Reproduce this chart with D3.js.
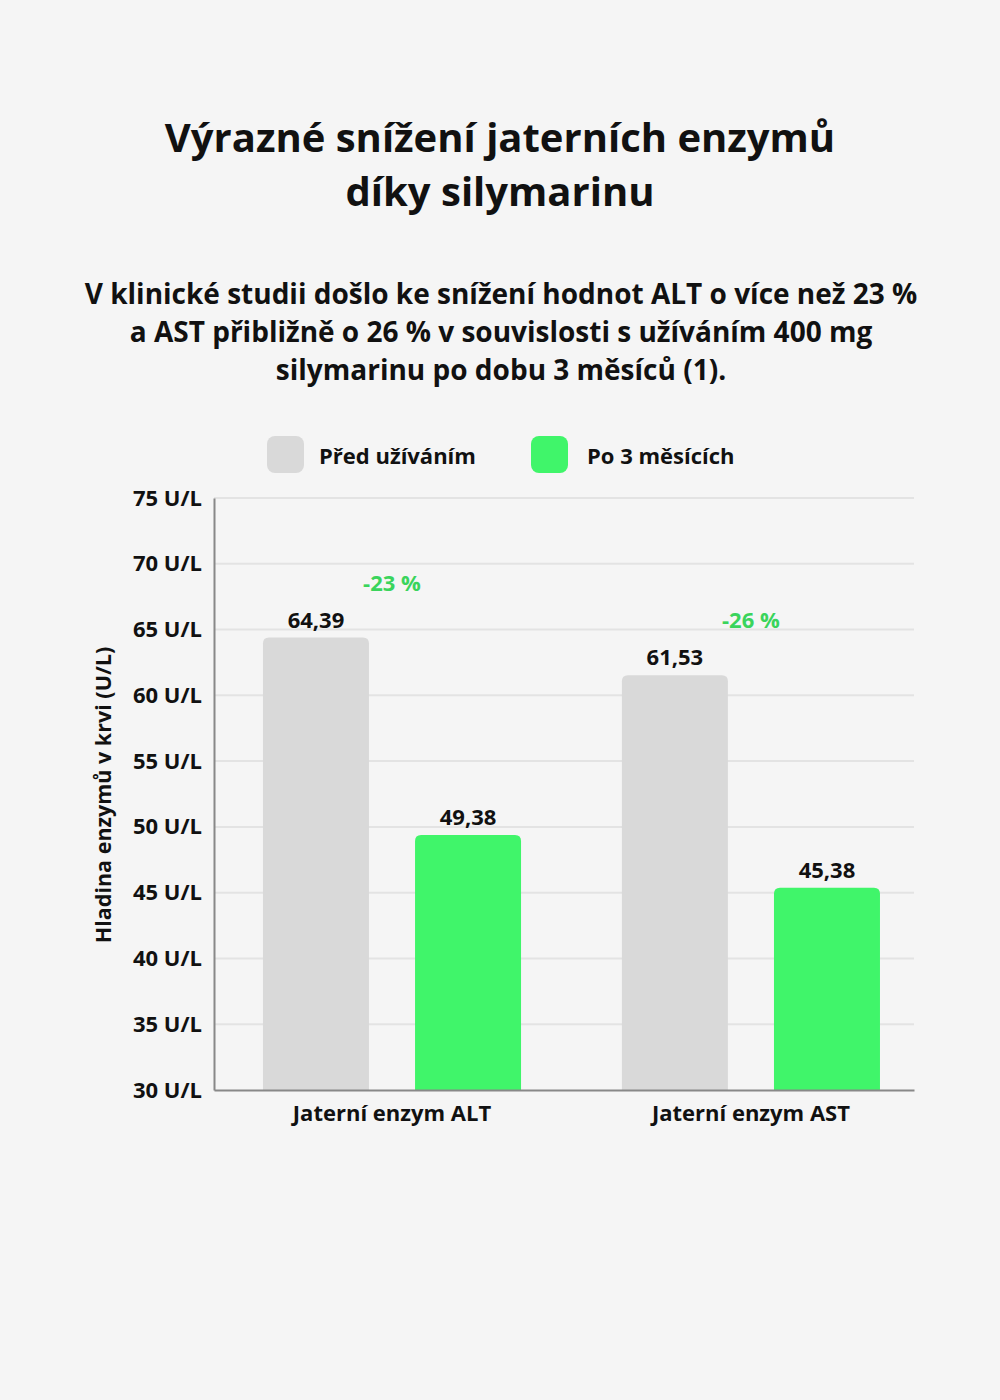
<!DOCTYPE html>
<html>
<head>
<meta charset="utf-8">
<script src="https://cdn.jsdelivr.net/npm/d3@7"></script>
<style>
  html, body { margin: 0; padding: 0; background: #f5f5f5; }
  svg { display: block; }
</style>
</head>
<body>
<svg id="chart" width="1000" height="1400"></svg>
<script>
// data
const categories = ["Jaterní enzym ALT", "Jaterní enzym AST"];
const seriesNames = ["Před užíváním", "Po 3 měsících"];
const beforeValues = [64.39, 61.53];
const afterValues = [49.38, 45.38];
const changeLabels = ["-23 %", "-26 %"];
const yTicks = [30, 35, 40, 45, 50, 55, 60, 65, 70, 75];

const FONT = "'Open Sans', 'Noto Sans', sans-serif";
const colors = ["#d9d9d9", "#40f56a"];
const fmt = v => v.toFixed(2).replace(".", ",");

const svg = d3.select("#chart");
svg.append("rect").attr("width", 1000).attr("height", 1400).attr("fill", "#f5f5f5");

// titles
const title = svg.append("text")
  .attr("text-anchor", "middle").attr("font-family", FONT)
  .attr("font-weight", 700).attr("font-size", 40).attr("fill", "#111");
["Výrazné snížení jaterních enzymů", "díky silymarinu"].forEach((t, i) =>
  title.append("tspan").attr("x", 500).attr("y", 152 + i * 54).text(t));

const sub = svg.append("text")
  .attr("text-anchor", "middle").attr("font-family", FONT)
  .attr("font-weight", 700).attr("font-size", 28).attr("fill", "#111");
["V klinické studii došlo ke snížení hodnot ALT o více než 23 %",
 "a AST přibližně o 26 % v souvislosti s užíváním 400 mg",
 "silymarinu po dobu 3 měsíců (1)."].forEach((t, i) =>
  sub.append("tspan").attr("x", 501).attr("y", 304 + i * 38).text(t));

// legend
const legendX = [267, 531];
const lg = svg.append("g");
seriesNames.forEach((n, i) => {
  lg.append("rect").attr("x", legendX[i]).attr("y", 436).attr("width", 37).attr("height", 37)
    .attr("rx", 8).attr("fill", colors[i]);
  lg.append("text").attr("x", legendX[i] + (i ? 56 : 52)).attr("y", 455)
    .attr("dominant-baseline", "central")
    .attr("font-family", FONT).attr("font-weight", 700).attr("font-size", 22)
    .attr("fill", "#111").text(n);
});

// scales
const plotL = 214, plotR = 914, plotT = 498, plotB = 1090;
const y = d3.scaleLinear().domain([30, 75]).range([plotB, plotT]);
const x0 = d3.scaleBand().domain(categories).range([plotL, plotR])
  .paddingInner(0.281).paddingOuter(0.1156).align(0.59);
const x1 = d3.scaleBand().domain([0, 1]).range([0, x0.bandwidth()])
  .paddingInner(0.303).paddingOuter(0);

// grid
svg.append("g").selectAll("line").data(yTicks.filter(t => t > 30)).join("line")
  .attr("x1", plotL).attr("x2", plotR)
  .attr("y1", d => y(d)).attr("y2", d => y(d))
  .attr("stroke", "#e3e3e3").attr("stroke-width", 2);

// y axis
const yAxis = svg.append("g").attr("transform", `translate(${plotL},0)`)
  .call(d3.axisLeft(y).tickValues(yTicks).tickSize(0).tickPadding(12)
    .tickFormat(d => `${d} U/L`));
yAxis.select(".domain").attr("stroke", "#888").attr("stroke-width", 2);
yAxis.selectAll("text").attr("font-family", FONT).attr("font-weight", 700)
  .attr("font-size", 22).attr("fill", "#111");

svg.append("text")
  .attr("transform", "translate(102,795) rotate(-90)")
  .attr("text-anchor", "middle").attr("dominant-baseline", "central")
  .attr("font-family", FONT).attr("font-weight", 700).attr("font-size", 21.5)
  .attr("fill", "#111").text("Hladina enzymů v krvi (U/L)");

// bars
const rows = categories.map((c, i) => ({ cat: c, vals: [beforeValues[i], afterValues[i]], change: changeLabels[i] }));
const r = 6;
const barPath = (bx, bw, by, bb) =>
  `M${bx},${bb}V${by + r}Q${bx},${by} ${bx + r},${by}H${bx + bw - r}Q${bx + bw},${by} ${bx + bw},${by + r}V${bb}Z`;

const groups = svg.append("g").selectAll("g").data(rows).join("g")
  .attr("transform", d => `translate(${x0(d.cat)},0)`);

groups.selectAll("path").data(d => d.vals.map((v, k) => ({ v, k }))).join("path")
  .attr("d", d => barPath(x1(d.k), x1.bandwidth(), y(d.v), y(30)))
  .attr("fill", d => colors[d.k]);

groups.selectAll("text.val").data(d => d.vals.map((v, k) => ({ v, k }))).join("text")
  .attr("class", "val")
  .attr("x", d => x1(d.k) + x1.bandwidth() / 2)
  .attr("y", d => y(d.v) - 10)
  .attr("text-anchor", "middle")
  .attr("font-family", FONT).attr("font-weight", 700).attr("font-size", 22)
  .attr("fill", "#111").text(d => fmt(d.v));

groups.append("text")
  .attr("x", x0.bandwidth() / 2)
  .attr("y", d => y(d.vals[0]) - 47)
  .attr("text-anchor", "middle")
  .attr("font-family", FONT).attr("font-weight", 700).attr("font-size", 22)
  .attr("fill", "#3ad45c").text(d => d.change);

// x axis
const xAxis = svg.append("g").attr("transform", `translate(0,${plotB})`)
  .call(d3.axisBottom(x0).tickSize(0).tickPadding(15).tickSizeOuter(0));
xAxis.select(".domain").attr("stroke", "#888").attr("stroke-width", 2);
xAxis.selectAll("text").attr("font-family", FONT).attr("font-weight", 700)
  .attr("font-size", 22).attr("fill", "#111");
</script>
</body>
</html>
